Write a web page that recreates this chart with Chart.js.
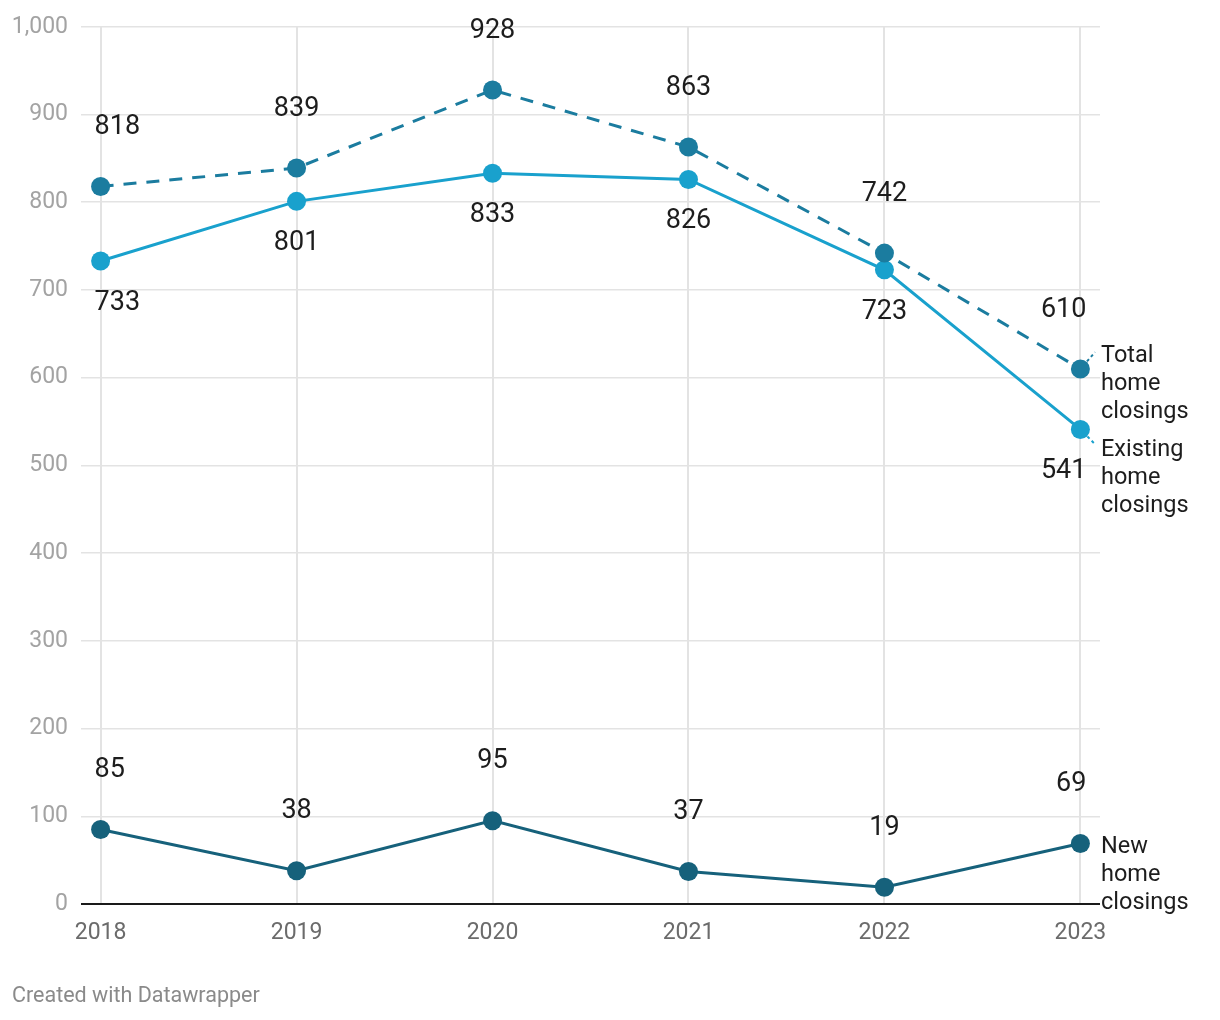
<!DOCTYPE html>
<html>
<head>
<meta charset="utf-8">
<script src="https://cdn.jsdelivr.net/npm/chart.js@4"></script>
<style>
html,body{margin:0;padding:0;background:#fff;}
#wrap{position:relative;width:1220px;height:1020px;}
</style>
</head>
<body>
<div id="wrap"><canvas id="c" width="1220" height="1020"></canvas></div>
<script>
const years = [2018, 2019, 2020, 2021, 2022, 2023];
const totalClosings = [818, 839, 928, 863, 742, 610];
const existingClosings = [733, 801, 833, 826, 723, 541];
const newClosings = [85, 38, 95, 37, 19, 69];
const yTicks = [0, 100, 200, 300, 400, 500, 600, 700, 800, 900, 1000];
const seriesNames = ['Total home closings', 'Existing home closings', 'New home closings'];
const seriesLines = [['Total', 'home', 'closings'], ['Existing', 'home', 'closings'], ['New', 'home', 'closings']];

const colTotal = '#1b7c9f';
const colExisting = '#19a1cd';
const colNew = '#16617b';
const FONT = 'Roboto, "Noto Sans", sans-serif';

function pts(arr) { return arr.map((v, i) => ({ x: years[i], y: v })); }

const labelPlugin = {
  id: 'labels',
  afterDatasetsDraw(chart) {
    const ctx = chart.ctx;
    const area = chart.chartArea;
    ctx.save();
    ctx.font = '27px ' + FONT;
    ctx.fillStyle = '#1d1d1d';
    ctx.textBaseline = 'middle';
    chart.data.datasets.forEach((ds, di) => {
      const meta = chart.getDatasetMeta(di);
      const below = ds.labelPos === 'below';
      meta.data.forEach((p, i) => {
        const txt = String(ds.data[i].y);
        let x = p.x, align = 'center';
        if (i === 0) { align = 'left'; x = p.x - 6; }
        else if (i === meta.data.length - 1) { align = 'right'; x = p.x + 6; }
        ctx.textAlign = align;
        const y = below ? p.y + 42 : p.y - 59;
        ctx.fillText(txt, x, y);
      });
    });
    ctx.restore();

    // right-side series labels
    ctx.save();
    ctx.font = '23.5px ' + FONT;
    ctx.textAlign = 'left';
    ctx.textBaseline = 'middle';
    const lh = 28;
    const items = chart.data.datasets.map((ds, di) => {
      const meta = chart.getDatasetMeta(di);
      const last = meta.data[meta.data.length - 1];
      return { di, px: last.x, py: last.y, y: last.y + 4, h: seriesLines[di].length * lh, color: ds.borderColor };
    }).sort((a, b) => a.y - b.y);
    const gap = 10;
    for (let iter = 0; iter < 20; iter++) {
      for (let k = 0; k < items.length - 1; k++) {
        const a = items[k], b = items[k + 1];
        const need = a.h + gap - (b.y - a.y);
        if (need > 0) { a.y -= need / 2; b.y += need / 2; }
      }
    }
    items.forEach(it => {
      const lx = area.right + 1;
      ctx.fillStyle = '#1d1d1d';
      seriesLines[it.di].forEach((ln, j) => ctx.fillText(ln, lx, it.y + j * lh));
      if (Math.abs(it.y - (it.py + 4)) > 6) {
        const tx = lx - 6, ty = it.y + (it.y < it.py ? -4 : -6);
        const dx = tx - it.px, dy = ty - it.py;
        const len = Math.hypot(dx, dy);
        const sx = it.px + dx / len * 10, sy = it.py + dy / len * 10;
        ctx.strokeStyle = it.color;
        ctx.lineWidth = 2;
        ctx.setLineDash([3, 3]);
        ctx.beginPath(); ctx.moveTo(sx, sy); ctx.lineTo(tx, ty); ctx.stroke();
        ctx.setLineDash([]);
      }
    });
    ctx.restore();

    // footer
    ctx.save();
    ctx.font = '21.5px ' + FONT;
    ctx.fillStyle = '#8a8a8a';
    ctx.textAlign = 'left';
    ctx.textBaseline = 'middle';
    ctx.fillText('Created with Datawrapper', 12, 997);
    ctx.restore();
  }
};

new Chart(document.getElementById('c'), {
  type: 'line',
  data: {
    datasets: [
      { label: seriesNames[0], data: pts(totalClosings), borderColor: colTotal, backgroundColor: colTotal,
        borderDash: [13, 10], borderWidth: 3, pointRadius: 9.5, pointBorderWidth: 0, labelPos: 'above' },
      { label: seriesNames[1], data: pts(existingClosings), borderColor: colExisting, backgroundColor: colExisting,
        borderWidth: 3, pointRadius: 9.5, pointBorderWidth: 0, labelPos: 'below' },
      { label: seriesNames[2], data: pts(newClosings), borderColor: colNew, backgroundColor: colNew,
        borderWidth: 3, pointRadius: 9.5, pointBorderWidth: 0, labelPos: 'above' }
    ]
  },
  options: {
    responsive: false,
    animation: false,
    events: [],
    layout: { padding: { left: 0, top: 21, right: 120, bottom: 0 } },
    plugins: { legend: { display: false }, tooltip: { enabled: false } },
    scales: {
      x: {
        type: 'linear',
        min: 2017.9, max: 2023.1,
        afterBuildTicks(s) { s.ticks = years.map(v => ({ value: v })); },
        afterFit(s) { s.height = 116; },
        border: { display: false },
        grid: { color: '#e3e3e3', lineWidth: 2, drawTicks: false },
        ticks: { color: '#6b6b6b', font: { family: FONT, size: 23 }, padding: 15, callback: v => String(v), maxRotation: 0 }
      },
      y: {
        min: 0, max: 1000,
        afterBuildTicks(s) { s.ticks = yTicks.map(v => ({ value: v })); },
        afterFit(s) { s.width = 81; },
        border: { display: false },
        grid: { color: c => c.tick && c.tick.value === 0 ? '#1a1a1a' : '#e3e3e3', lineWidth: c => c.tick && c.tick.value === 0 ? 2 : 1.5, drawTicks: false },
        ticks: { color: '#a3a3a3', font: { family: FONT, size: 23 }, padding: 13 }
      }
    }
  },
  plugins: [labelPlugin]
});
</script>
</body>
</html>
